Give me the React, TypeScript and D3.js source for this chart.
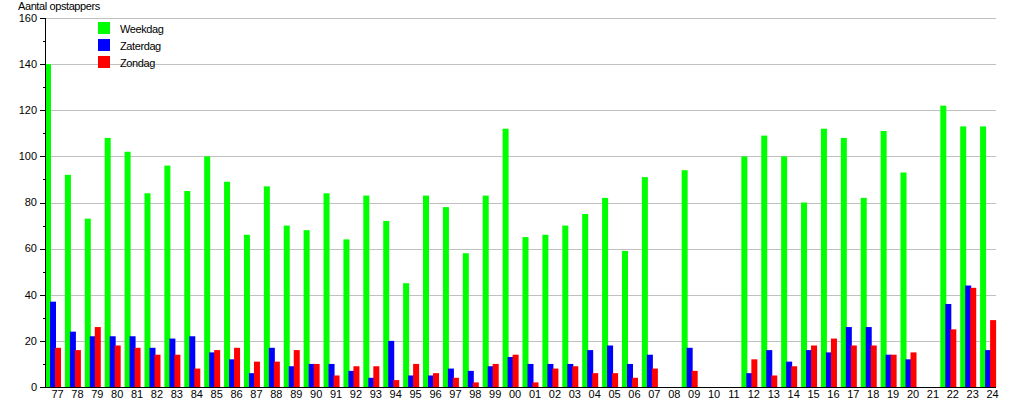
import React from "react";
import * as d3 from "d3";

const categories = ["77","78","79","80","81","82","83","84","85","86","87","88","89","90","91","92","93","94","95","96","97","98","99","00","01","02","03","04","05","06","07","08","09","10","11","12","13","14","15","16","17","18","19","20","21","22","23","24"];
const weekdag: (number | null)[] = [140,92,73,108,102,84,96,85,100,89,66,87,70,68,84,64,83,72,45,83,78,58,83,112,65,66,70,75,82,59,91,null,94,null,null,100,109,100,80,112,108,82,111,93,null,122,113,113];
const zaterdag: (number | null)[] = [37,24,22,22,22,17,21,22,15,12,6,17,9,10,10,7,4,20,5,5,8,7,9,13,10,10,10,16,18,10,14,null,17,null,null,6,16,11,16,15,26,26,14,12,null,36,44,16];
const zondag: (number | null)[] = [17,16,26,18,17,14,14,8,16,17,11,11,16,10,5,9,9,3,10,6,4,2,10,14,2,8,9,6,6,4,8,null,7,null,null,12,5,9,18,21,18,18,14,15,null,25,43,29];
const seriesNames = ["Weekdag", "Zaterdag", "Zondag"];
const seriesColors = ["#00ff00", "#0000ff", "#ff0000"];
const yTicks = [0, 20, 40, 60, 80, 100, 120, 140, 160];
const yMinorTicks = [10, 30, 50, 70, 90, 110, 130, 150];
const yTitle = "Aantal opstappers";

export default function App() {
  const W = 1015, H = 400;
  const left = 45, right = 1000, top = 18, bottom = 387;
  const x = d3.scaleBand<string>().domain(categories).range([left, right]).padding(0);
  const sub = d3.scaleBand<string>().domain(seriesNames).range([0, 15]);
  const y = d3.scaleLinear().domain([0, 160]).range([bottom, top]);
  const allSeries = [weekdag, zaterdag, zondag];
  const font = "'Liberation Sans', Arial, sans-serif";

  return (
    <svg width={W} height={H} style={{ position: "absolute", left: 0, top: 0, background: "#fff" }} fontFamily={font}>
      <rect x={0} y={0} width={W} height={H} fill="#fff" />
      {yTicks.filter(t => t > 0).map(t => (
        <line key={"g" + t} x1={left} x2={996} y1={Math.round(y(t)) + 0.5} y2={Math.round(y(t)) + 0.5} stroke="#c0c0c0" strokeWidth={1} />
      ))}
      {allSeries.map((vals, si) => (
        <g key={si} fill={seriesColors[si]}>
          {vals.map((v, i) => v == null ? null : (
            <rect key={i}
              x={(x(categories[i]) as number) + (sub(seriesNames[si]) as number)}
              y={y(v)}
              width={sub.bandwidth() + 1}
              height={y(0) - y(v)} />
          ))}
        </g>
      ))}
      <line x1={left + 0.5} x2={left + 0.5} y1={top} y2={bottom} stroke="#000" />
      <line x1={left} x2={996} y1={bottom + 0.5} y2={bottom + 0.5} stroke="#000" />
      {yTicks.map(t => (
        <g key={"t" + t}>
          <line x1={left - 5} x2={left} y1={Math.round(y(t)) + 0.5} y2={Math.round(y(t)) + 0.5} stroke="#000" />
          <text x={37} y={y(t)} dy="0.35em" textAnchor="end" fontSize={11} fill="#000">{t}</text>
        </g>
      ))}
      {yMinorTicks.map(t => (
        <line key={"m" + t} x1={left - 2} x2={left} y1={Math.round(y(t)) + 0.5} y2={Math.round(y(t)) + 0.5} stroke="#000" />
      ))}
      {categories.map(c => (
        <text key={"c" + c} x={(x(c) as number) + 12.5} y={398} textAnchor="middle" fontSize={11} fill="#000">{c}</text>
      ))}
      <text x={18} y={10} fontSize={11} letterSpacing={-0.4} fill="#000">{yTitle}</text>
      {seriesNames.map((s, i) => (
        <g key={"l" + s}>
          <rect x={98} y={22 + i * 17} width={12} height={12} fill={seriesColors[i]} />
          <text x={120} y={33 + i * 17} fontSize={11} letterSpacing={-0.4} fill="#000">{s}</text>
        </g>
      ))}
    </svg>
  );
}
